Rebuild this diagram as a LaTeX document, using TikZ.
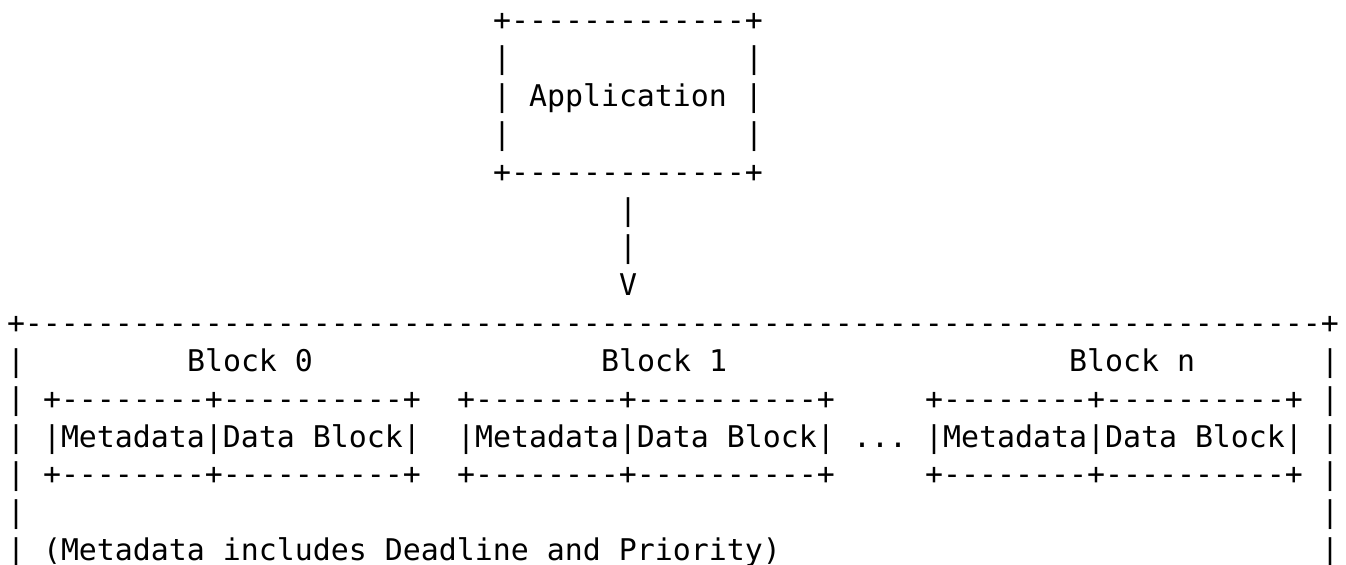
\documentclass[tikz,border=0pt]{standalone}
\usepackage{fontspec}
\setmonofont{DejaVu Sans Mono}
\tikzset{
  asc/.style={font=\ttfamily\fontsize{14.95pt}{18pt}\selectfont, anchor=base west,
              inner sep=0pt, outer sep=0pt, text=black}
}
% place text at (column, row) of the character grid
\newcommand\gridtext[4]{\node[asc] (#1) at ({3.5pt+#2*9pt},{-15.4pt-#3*18.925pt}) {#4};}
\begin{document}
\begin{tikzpicture}
\useasboundingbox[fill=white] (0pt,0pt) rectangle (673pt,-282.5pt);
% Application box
\gridtext{apptop}{27}{0}{+-------------+}
\gridtext{appl1}{27}{1}{|}
\gridtext{appr1}{41}{1}{|}
\gridtext{app}{27}{2}{| Application |}
\gridtext{appl3}{27}{3}{|}
\gridtext{appr3}{41}{3}{|}
\gridtext{appbot}{27}{4}{+-------------+}
% arrow
\gridtext{arr1}{34}{5}{|}
\gridtext{arr2}{34}{6}{|}
\gridtext{arrhead}{34}{7}{V}
% big box
\gridtext{bigtop}{0}{8}{+------------------------------------------------------------------------+}
\foreach \r in {9,...,14}{
  \gridtext{bigl\r}{0}{\r}{|}
  \gridtext{bigr\r}{73}{\r}{|}
}
\gridtext{blk0}{10}{9}{Block 0}
\gridtext{blk1}{33}{9}{Block 1}
\gridtext{blkn}{59}{9}{Block n}
% block 0
\gridtext{b0t}{2}{10}{+--------+----------+}
\gridtext{b0m}{2}{11}{|Metadata|Data Block|}
\gridtext{b0b}{2}{12}{+--------+----------+}
% block 1
\gridtext{b1t}{25}{10}{+--------+----------+}
\gridtext{b1m}{25}{11}{|Metadata|Data Block|}
\gridtext{b1b}{25}{12}{+--------+----------+}
% dots
\gridtext{dots}{47}{11}{...}
% block n
\gridtext{bnt}{51}{10}{+--------+----------+}
\gridtext{bnm}{51}{11}{|Metadata|Data Block|}
\gridtext{bnb}{51}{12}{+--------+----------+}
% note
\gridtext{note}{2}{14}{(Metadata includes Deadline and Priority)}
\end{tikzpicture}
\end{document}
